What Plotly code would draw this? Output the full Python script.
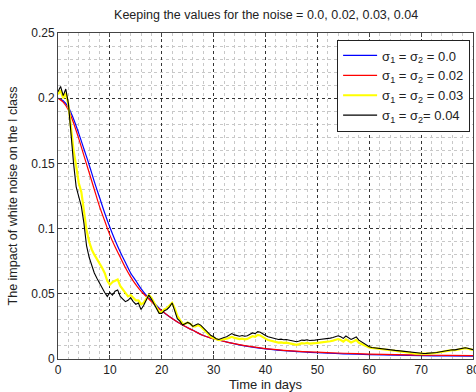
import plotly.graph_objects as go

# ---- data ----
t_smooth = [0, 1, 2, 3, 4, 5, 6, 7, 8, 9, 10, 11, 12, 13, 14, 15, 16, 17, 18, 19, 20,
            22, 24, 26, 28, 30, 33, 36, 40, 45, 50, 55, 60, 65, 70, 75, 80]
sigma_00 = [0.200, 0.198, 0.193, 0.184, 0.173, 0.161, 0.149, 0.136, 0.124, 0.112, 0.101,
            0.091, 0.082, 0.074, 0.066, 0.060, 0.054, 0.049, 0.045, 0.041, 0.037,
            0.031, 0.026, 0.022, 0.018, 0.0155, 0.0125, 0.0100, 0.0078, 0.0060, 0.0048,
            0.0040, 0.0034, 0.0029, 0.0026, 0.0023, 0.0021]
sigma_02 = [0.200, 0.197, 0.191, 0.181, 0.169, 0.156, 0.143, 0.130, 0.117, 0.106, 0.095,
            0.086, 0.078, 0.070, 0.063, 0.057, 0.052, 0.048, 0.044, 0.040, 0.037,
            0.031, 0.026, 0.022, 0.018, 0.0155, 0.0125, 0.0102, 0.0080, 0.0063, 0.0052,
            0.0044, 0.0038, 0.0033, 0.0030, 0.0028, 0.0026]

t_noisy = [i * 0.5 for i in range(161)]
sigma_04 = [
    0.205, 0.209, 0.202, 0.207, 0.196, 0.170, 0.150, 0.132, 0.124, 0.117,
    0.104, 0.087, 0.078, 0.071, 0.066, 0.062, 0.058, 0.055, 0.051, 0.048,
    0.051, 0.049, 0.052, 0.053, 0.048, 0.046, 0.044, 0.045, 0.047, 0.044,
    0.042, 0.043, 0.038, 0.041, 0.045, 0.049, 0.046, 0.042, 0.038, 0.035,
    0.035, 0.037, 0.038, 0.040, 0.043, 0.036, 0.031, 0.029, 0.026, 0.027,
    0.028, 0.027, 0.025, 0.026, 0.027, 0.026, 0.024, 0.022, 0.020, 0.018,
    0.017, 0.0155, 0.015, 0.016, 0.0165, 0.017, 0.0185, 0.0195, 0.0185, 0.018,
    0.0175, 0.018, 0.0175, 0.0178, 0.019, 0.020, 0.0195, 0.021, 0.0205, 0.019,
    0.018, 0.017, 0.0165, 0.016, 0.0155, 0.015, 0.0152, 0.0148, 0.015, 0.0145,
    0.014, 0.0138, 0.0132, 0.0138, 0.0145, 0.0143, 0.0148, 0.0142, 0.0146, 0.0145,
    0.0148, 0.015, 0.0155, 0.0152, 0.0158, 0.016, 0.0165, 0.0172, 0.0178, 0.017,
    0.0158, 0.0176, 0.0162, 0.015, 0.016, 0.017, 0.0145, 0.0132, 0.0118, 0.0102,
    0.0094, 0.0088, 0.0085, 0.0082, 0.0083, 0.0079, 0.0076, 0.0074, 0.0072, 0.0068,
    0.0066, 0.0064, 0.0062, 0.0059, 0.0057, 0.0055, 0.0051, 0.0047, 0.0044, 0.0043,
    0.0044, 0.0042, 0.0043, 0.0044, 0.0045, 0.0047, 0.0050, 0.0054, 0.0058, 0.0062,
    0.0066, 0.0069, 0.0071, 0.0070, 0.0073, 0.0075, 0.0080, 0.0086, 0.0082, 0.0075,
    0.0072]
sigma_03 = [
    0.203, 0.206, 0.200, 0.204, 0.195, 0.178, 0.160, 0.148, 0.135, 0.128,
    0.115, 0.099, 0.090, 0.084, 0.080, 0.077, 0.074, 0.070, 0.066, 0.060,
    0.057, 0.059, 0.060, 0.061, 0.056, 0.053, 0.050, 0.048, 0.049, 0.047,
    0.045, 0.045, 0.042, 0.043, 0.046, 0.049, 0.047, 0.043, 0.039, 0.036,
    0.036, 0.038, 0.039, 0.041, 0.043, 0.039, 0.033, 0.030, 0.027, 0.027,
    0.028, 0.027, 0.025, 0.025, 0.026, 0.025, 0.023, 0.021, 0.019, 0.017,
    0.016, 0.015, 0.0145, 0.0148, 0.015, 0.0155, 0.0162, 0.017, 0.0162, 0.0157,
    0.0152, 0.0156, 0.0151, 0.0154, 0.0165, 0.0175, 0.017, 0.0185, 0.018, 0.0166,
    0.0156, 0.0146, 0.0141, 0.0136, 0.0131, 0.0126, 0.0128, 0.0124, 0.0126, 0.0121,
    0.0116, 0.0114, 0.0108, 0.0114, 0.0121, 0.0119, 0.0124, 0.0118, 0.0122, 0.0121,
    0.0124, 0.0126, 0.0131, 0.0128, 0.0134, 0.0136, 0.0141, 0.0148, 0.0153, 0.0146,
    0.0134, 0.0151, 0.0138, 0.0127, 0.0136, 0.0146, 0.0124, 0.0114, 0.0104, 0.0094,
    0.0089, 0.0085, 0.0082, 0.0079, 0.0080, 0.0076, 0.0073, 0.0071, 0.0069, 0.0065,
    0.0063, 0.0061, 0.0059, 0.0056, 0.0054, 0.0052, 0.0048, 0.0044, 0.0041, 0.0040,
    0.0041, 0.0039, 0.0040, 0.0041, 0.0042, 0.0044, 0.0047, 0.0051, 0.0055, 0.0059,
    0.0063, 0.0066, 0.0068, 0.0067, 0.0070, 0.0072, 0.0077, 0.0083, 0.0079, 0.0072,
    0.0069]

legend_names = ["σ<sub>1</sub> = σ<sub>2</sub> = 0.0",
                "σ<sub>1</sub> = σ<sub>2</sub> = 0.02",
                "σ<sub>1</sub> = σ<sub>2</sub> = 0.03",
                "σ<sub>1</sub> = σ<sub>2</sub>= 0.04"]
x_ticks = [0, 10, 20, 30, 40, 50, 60, 70, 80]
y_ticks = [0, 0.05, 0.1, 0.15, 0.2, 0.25]
y_tick_text = ["0", "0.05", "0.1", "0.15", "0.2", "0.25"]

fig = go.Figure()
fig.add_trace(go.Scatter(x=t_smooth, y=sigma_00, mode="lines", name=legend_names[0],
                         line=dict(color="#0000ff", width=1.2, shape="spline")))
fig.add_trace(go.Scatter(x=t_smooth, y=sigma_02, mode="lines", name=legend_names[1],
                         line=dict(color="#ff0000", width=1.2, shape="spline")))
fig.add_trace(go.Scatter(x=t_noisy, y=sigma_03, mode="lines", name=legend_names[2],
                         line=dict(color="#ffff00", width=2.2)))
fig.add_trace(go.Scatter(x=t_noisy, y=sigma_04, mode="lines", name=legend_names[3],
                         line=dict(color="#000000", width=1.1)))

axis_common = dict(
    showline=True, linecolor="#444", linewidth=1, mirror="ticks",
    ticks="inside", ticklen=4, tickcolor="#444",
    showgrid=True, gridcolor="#333", griddash="dot", gridwidth=1,
    zeroline=False, ticklabeloverflow="allow",
    tickfont=dict(size=12, color="#222"),
)

fig.update_xaxes(range=[0, 80], tickvals=x_ticks,
                 minor=dict(dtick=2, showgrid=True, gridcolor="#c8c8c8", griddash="dot", gridwidth=1),
                 title=dict(text="Time in days", font=dict(size=13, color="#222"), standoff=1),
                 **axis_common)
fig.update_yaxes(range=[0, 0.25], tickvals=y_ticks, ticktext=y_tick_text,
                 minor=dict(dtick=0.01, showgrid=True, gridcolor="#c8c8c8", griddash="dot", gridwidth=1),
                 title=dict(text="The impact of white noise on the I class",
                            font=dict(size=12.5, color="#222"), standoff=10),
                 **axis_common)

fig.update_layout(
    width=476, height=392,
    margin=dict(l=58, r=3, t=33, b=33, autoexpand=False),
    paper_bgcolor="white", plot_bgcolor="white",
    font=dict(family="Liberation Sans, Arial, sans-serif", color="#222"),
    title=dict(text="Keeping the values for the noise = 0.0, 0.02, 0.03, 0.04",
               font=dict(size=12.5, color="#222"), x=0.559, xanchor="center",
               y=0.963, yanchor="middle"),
    legend=dict(x=0.993, y=0.98, xanchor="right", yanchor="top",
                bgcolor="white", bordercolor="#222", borderwidth=1,
                font=dict(size=13, color="#222"), itemwidth=34, tracegroupgap=0),
    showlegend=True,
)

fig.write_html("out.html", config={"displayModeBar": False},
               post_script="document.body.style.margin='0';document.body.style.padding='0';")
